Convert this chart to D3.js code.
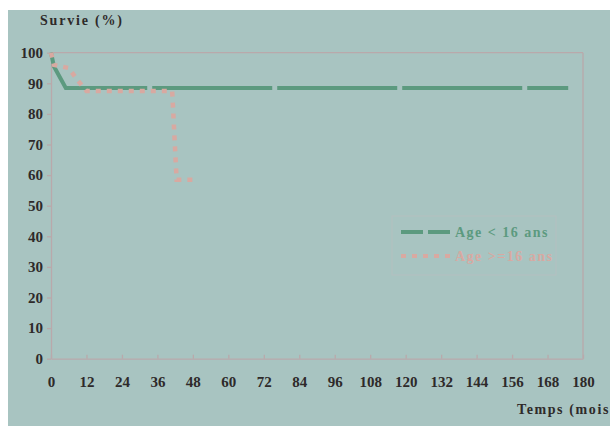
<!DOCTYPE html>
<html><head><meta charset="utf-8">
<script src="https://cdn.jsdelivr.net/npm/d3@7"></script>
<style>body{margin:0;background:#fff}svg{display:block}</style>
</head><body>
<script>
const xTicks = [0,12,24,36,48,60,72,84,96,108,120,132,144,156,168,180];
const yTicks = [0,10,20,30,40,50,60,70,80,90,100];
const seriesNames = ["Age < 16 ans", "Age >=16 ans"];
const youngMonths = [0, 1, 5, 175];
const youngSurv   = [100, 95.5, 88.5, 88.5];
const oldMonths = [0, 1, 6, 9, 12, 41, 42.5, 48];
const oldSurv   = [100, 96, 95, 91, 87.5, 87.5, 58.5, 58.5];

const W = 610, H = 426;
const svg = d3.select("body").append("svg").attr("width", W).attr("height", H);
svg.append("rect").attr("x",8).attr("y",10).attr("width",W-8).attr("height",H-10).attr("fill","#a8c4c1");

const x = d3.scaleLinear().domain([0,180]).range([51,583]);
const y = d3.scaleLinear().domain([0,100]).range([358.7,52.7]);
const axisCol = "#b9a9ab";
const font = "'Liberation Serif','Times New Roman',serif";

svg.append("line").attr("x1",x(0)).attr("x2",x(180)).attr("y1",y(100)).attr("y2",y(100)).attr("stroke",axisCol).attr("stroke-width",1.3);
svg.append("line").attr("x1",x(180)).attr("x2",x(180)).attr("y1",y(100)).attr("y2",y(0)).attr("stroke",axisCol).attr("stroke-width",1.3);

const xa = svg.append("g").attr("transform",`translate(0,${y(0)})`)
  .call(d3.axisBottom(x).tickValues(xTicks).tickSize(4).tickPadding(14).tickSizeOuter(0));
const ya = svg.append("g").attr("transform",`translate(${x(0)},0)`)
  .call(d3.axisLeft(y).tickValues(yTicks).tickSize(4).tickPadding(4).tickSizeOuter(0));
[xa,ya].forEach(a=>{
  a.selectAll("path,line").attr("stroke",axisCol).attr("stroke-width",1.3);
  a.selectAll("text").attr("font-family",font).attr("font-weight","bold").attr("font-size",15).attr("fill","#2e2a2a");
});
xa.selectAll("line").attr("transform","translate(0,-4)");

const line = d3.line().x(d=>x(d[0])).y(d=>y(d[1]));
svg.append("path").datum(youngMonths.map((m,i)=>[m,youngSurv[i]]))
  .attr("d",line).attr("fill","none").attr("stroke","#5c9a7f").attr("stroke-width",4)
  .attr("stroke-dasharray","120,5");
svg.append("path").datum(oldMonths.map((m,i)=>[m,oldSurv[i]]))
  .attr("d",line).attr("fill","none").attr("stroke","#d8a9a1").attr("stroke-width",4.5)
  .attr("stroke-dasharray","5,6");

svg.append("text").attr("x",40).attr("y",25).text("Survie (%)")
  .attr("font-family",font).attr("font-weight","bold").attr("font-size",14).attr("letter-spacing",1.8).attr("fill","#2e2a2a");
svg.append("text").attr("x",517).attr("y",414).text("Temps (mois")
  .attr("font-family",font).attr("font-weight","bold").attr("font-size",14).attr("letter-spacing",1.6).attr("fill","#2e2a2a");

const lg = svg.append("g");
lg.append("rect").attr("x",392).attr("y",216).attr("width",164).attr("height",59).attr("fill","none").attr("stroke","#b4bfc0").attr("stroke-width",1);
const cols = ["#5c9a7f","#d8a9a1"], dashes = ["22,5","5,6"];
seriesNames.forEach((n,i)=>{
  const yy = 232 + i*24;
  lg.append("line").attr("x1",401).attr("x2",450).attr("y1",yy).attr("y2",yy)
    .attr("stroke",cols[i]).attr("stroke-width",4).attr("stroke-dasharray",dashes[i]);
  lg.append("text").attr("x",455).attr("y",yy+5).text(n).attr("fill",cols[i])
    .attr("font-family",font).attr("font-weight","bold").attr("font-size",14).attr("letter-spacing",1.5);
});
</script>
</body></html>
